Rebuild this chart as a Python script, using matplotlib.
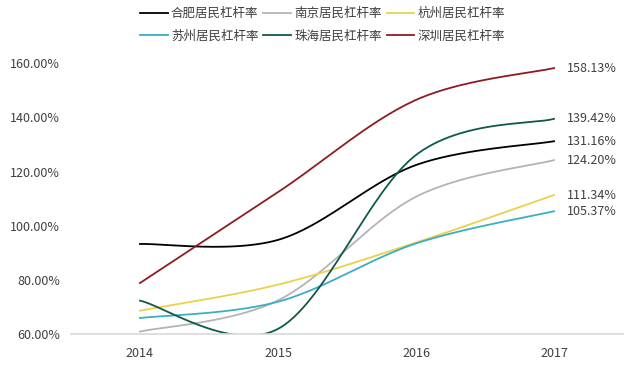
import numpy as np
import matplotlib.pyplot as plt

plt.rcParams['font.family'] = ['Noto Sans CJK SC', 'DejaVu Sans']

years = ['2014', '2015', '2016', '2017']
hefei = [93.3, 94.8, 122.4, 131.16]
nanjing = [61.0, 72.5, 110.7, 124.20]
hangzhou = [68.7, 78.3, 93.8, 111.34]
suzhou = [66.0, 72.0, 93.5, 105.37]
zhuhai = [72.4, 62.0, 126.1, 139.42]
shenzhen = [78.9, 112.4, 146.4, 158.13]

series = [
    ('合肥居民杠杆率', hefei, '#000000'),
    ('南京居民杠杆率', nanjing, '#b4b4b4'),
    ('杭州居民杠杆率', hangzhou, '#ecd04a'),
    ('苏州居民杠杆率', suzhou, '#3aaec4'),
    ('珠海居民杠杆率', zhuhai, '#0e5a4c'),
    ('深圳居民杠杆率', shenzhen, '#8c1c22'),
]


def smooth(xs, ys, n=60):
    # Excel-style smoothed line: cubic bezier with catmull-rom control points
    xs = np.asarray(xs, float)
    ys = np.asarray(ys, float)
    px = np.concatenate([[xs[0]], xs, [xs[-1]]])
    py = np.concatenate([[ys[0]], ys, [ys[-1]]])
    t = np.linspace(0, 1, n)
    out_x, out_y = [], []
    for i in range(len(xs) - 1):
        p0 = np.array([px[i + 1], py[i + 1]])
        p3 = np.array([px[i + 2], py[i + 2]])
        c1 = p0 + (np.array([px[i + 2], py[i + 2]]) - np.array([px[i], py[i]])) / 6
        c2 = p3 - (np.array([px[i + 3], py[i + 3]]) - np.array([px[i + 1], py[i + 1]])) / 6
        b = ((1 - t) ** 3)[:, None] * p0 + (3 * (1 - t) ** 2 * t)[:, None] * c1 \
            + (3 * (1 - t) * t ** 2)[:, None] * c2 + (t ** 3)[:, None] * p3
        out_x.extend(b[:, 0])
        out_y.extend(b[:, 1])
    return np.array(out_x), np.array(out_y)


fig = plt.figure(figsize=(6.36, 3.65), dpi=100)
ax = fig.add_axes([0.1116, 0.0841, 0.868, 0.7433])

x = np.arange(len(years))
lines = []
for name, vals, color in series:
    sx, sy = smooth(x, vals)
    ln, = ax.plot(sx, sy, color=color, lw=1.3, label=name)
    lines.append(ln)
    ax.text(x[-1] + 0.095, vals[-1], '%.2f%%' % vals[-1], va='center', ha='left',
            fontsize=9, color='#404040')

ax.set_xlim(-0.5, 3.5)
ax.set_ylim(60, 160)
ax.set_xticks(x)
ax.set_xticklabels(years)
ax.set_yticks([60, 80, 100, 120, 140, 160])
ax.set_yticklabels(['%.2f%%' % v for v in [60, 80, 100, 120, 140, 160]])
ax.tick_params(length=0, labelsize=9, labelcolor='#404040')
ax.tick_params(axis='y', pad=8)
ax.tick_params(axis='x', pad=9)
for s in ['top', 'right', 'left']:
    ax.spines[s].set_visible(False)
ax.spines['bottom'].set_color('#d9d9d9')
ax.spines['bottom'].set_linewidth(1.2)

# legend is filled row by row in the original
order = [0, 3, 1, 4, 2, 5]
fig.legend([lines[i] for i in order], [series[i][0] for i in order],
           loc='center', bbox_to_anchor=(0.507, 0.932), ncol=3, frameon=False,
           fontsize=9, handlelength=2.2, handletextpad=0.25, columnspacing=0.4,
           labelspacing=0.75, labelcolor='#404040')

fig.savefig('out.png', dpi=100)
